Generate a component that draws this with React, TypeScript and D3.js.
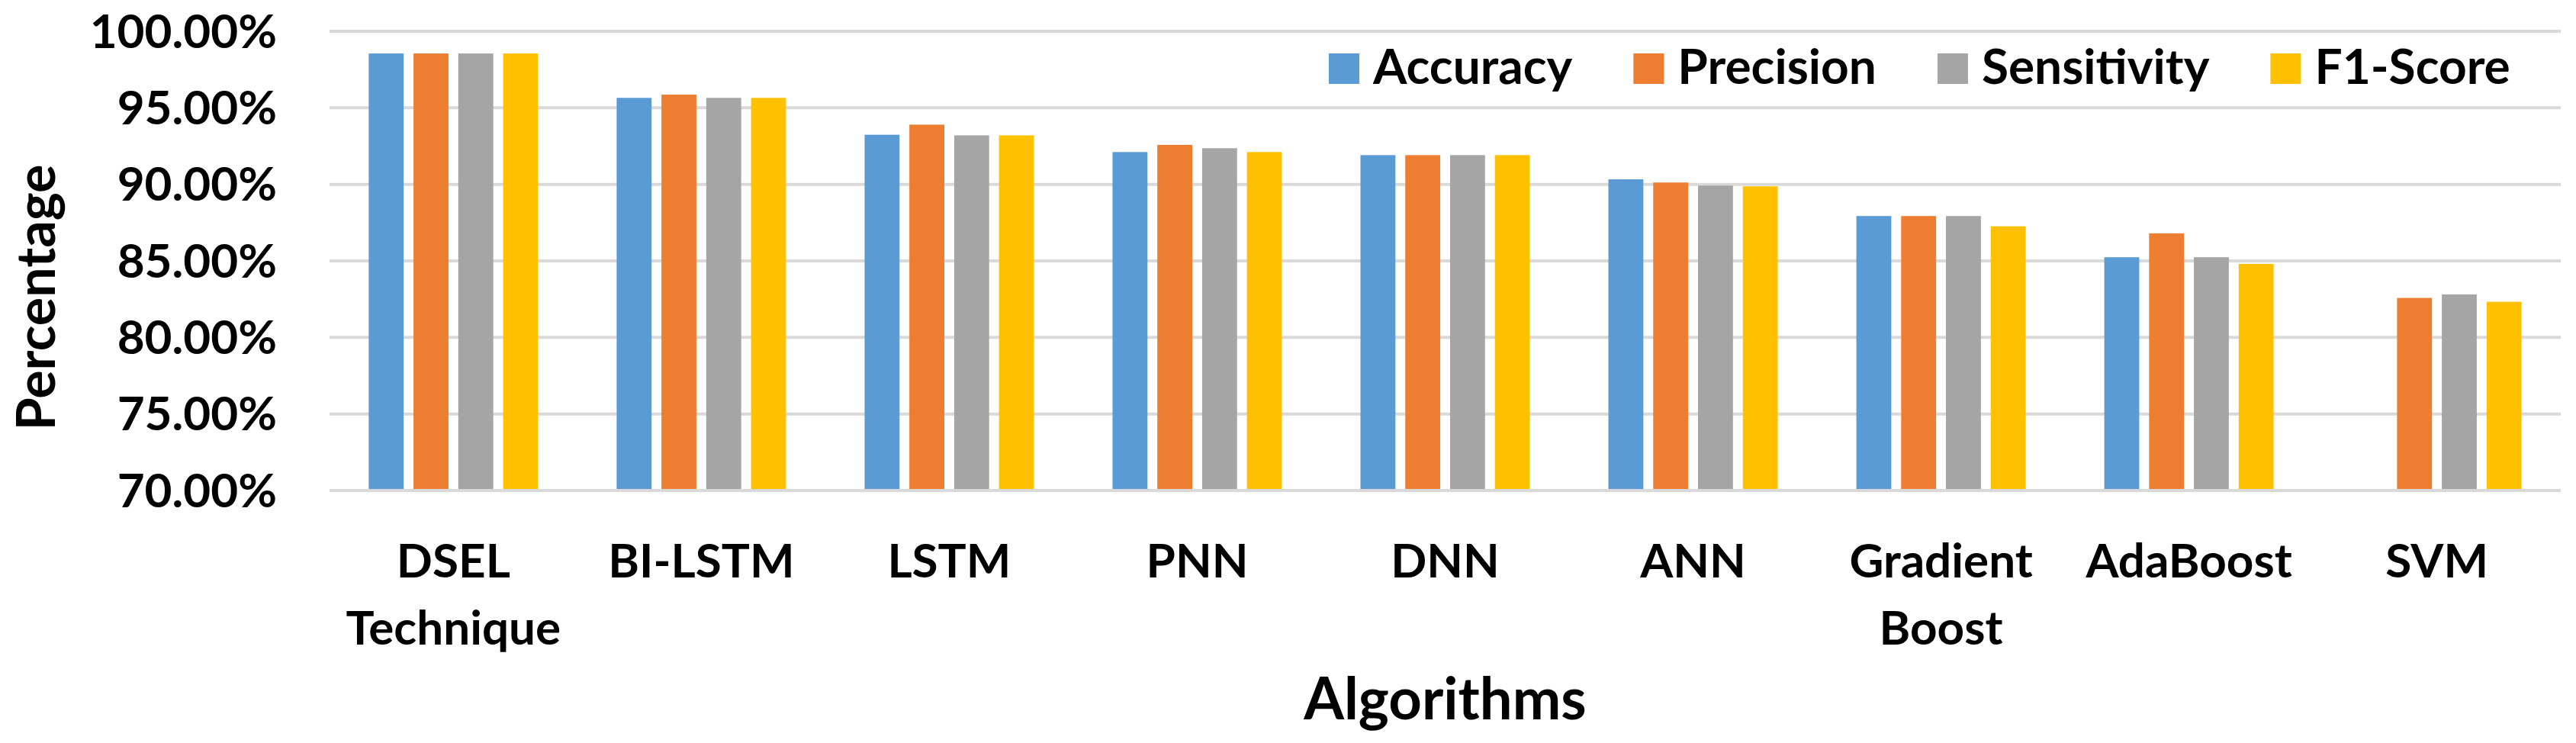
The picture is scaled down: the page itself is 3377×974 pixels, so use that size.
import React, { useEffect, useRef } from 'react';
import * as d3 from 'd3';

// chart data
const algorithms = ['DSEL Technique', 'BI-LSTM', 'LSTM', 'PNN', 'DNN', 'ANN', 'Gradient Boost', 'AdaBoost', 'SVM'];
const seriesNames = ['Accuracy', 'Precision', 'Sensitivity', 'F1-Score'];
const accuracy = [98.55, 95.65, 93.24, 92.11, 91.91, 90.33, 87.93, 85.24, null];
const precision = [98.55, 95.86, 93.9, 92.58, 91.91, 90.12, 87.93, 86.8, 82.58];
const sensitivity = [98.55, 95.65, 93.2, 92.36, 91.91, 89.92, 87.93, 85.24, 82.81];
const f1Score = [98.55, 95.65, 93.2, 92.11, 91.91, 89.87, 87.26, 84.8, 82.33];
const seriesColors = ['#5B9BD5', '#ED7D31', '#A5A5A5', '#FFC000'];
const yTicks = [70, 75, 80, 85, 90, 95, 100];

const WIDTH = 3377;
const HEIGHT = 974;
const FONT = 'Lato, "Open Sans", sans-serif';

const App = () => {
  const svgRef = useRef<SVGSVGElement>(null);

  useEffect(() => {
    const margin = { top: 41, right: 20, bottom: 331, left: 432 };
    const plotRight = WIDTH - margin.right;
    const plotBottom = HEIGHT - margin.bottom;

    const svg = d3.select(svgRef.current);
    svg.selectAll('*').remove();

    const values: (number | null)[][] = [accuracy, precision, sensitivity, f1Score];
    const rows = algorithms.map((name, i) => ({
      name,
      vals: seriesNames.map((s, j) => ({ series: s, value: values[j][i] })),
    }));

    // scales
    const x0 = d3.scaleBand<string>()
      .domain(algorithms)
      .range([margin.left, plotRight])
      .paddingInner(0.317)
      .paddingOuter(0.158);
    const x1 = d3.scaleBand<string>()
      .domain(seriesNames)
      .range([0, x0.bandwidth()])
      .paddingInner(0.22);
    const y = d3.scaleLinear().domain([70, 100]).range([plotBottom, margin.top]);
    const color = d3.scaleOrdinal<string, string>().domain(seriesNames).range(seriesColors);

    // gridlines
    svg.append('g')
      .selectAll('line')
      .data(yTicks.filter(t => t !== 70))
      .join('line')
      .attr('x1', margin.left)
      .attr('x2', plotRight)
      .attr('y1', d => y(d))
      .attr('y2', d => y(d))
      .attr('stroke', '#d9d9d9')
      .attr('stroke-width', 4);

    // y tick labels
    const yAxis = svg.append('g')
      .attr('transform', `translate(${margin.left - 69},0)`)
      .call(d3.axisLeft(y).tickValues(yTicks).tickSize(0).tickPadding(0)
        .tickFormat(d => `${(d as number).toFixed(2)}%`));
    yAxis.select('.domain').remove();
    yAxis.selectAll('text')
      .attr('font-family', FONT)
      .attr('font-weight', 700)
      .attr('font-size', 62)
      .attr('fill', '#000')
      .attr('dy', 21);

    // bars
    svg.append('g')
      .selectAll('g')
      .data(rows)
      .join('g')
      .attr('transform', d => `translate(${x0(d.name)},0)`)
      .selectAll('rect')
      .data(d => d.vals.filter(v => v.value !== null))
      .join('rect')
      .attr('x', d => x1(d.series) as number)
      .attr('width', x1.bandwidth())
      .attr('y', d => y(d.value as number))
      .attr('height', d => y(70) - y(d.value as number))
      .attr('fill', d => color(d.series));

    // x axis line
    svg.append('line')
      .attr('x1', margin.left)
      .attr('x2', plotRight)
      .attr('y1', y(70))
      .attr('y2', y(70))
      .attr('stroke', '#d9d9d9')
      .attr('stroke-width', 4);

    // category labels, wrapped on spaces
    const xLabels = svg.append('g')
      .selectAll('text')
      .data(algorithms)
      .join('text')
      .attr('x', d => (x0(d) as number) + x0.bandwidth() / 2)
      .attr('y', plotBottom + 114)
      .attr('text-anchor', 'middle')
      .attr('font-family', FONT)
      .attr('font-weight', 700)
      .attr('font-size', 62)
      .attr('fill', '#000');
    xLabels.selectAll('tspan')
      .data(d => d.split(' '))
      .join('tspan')
      .attr('x', function () {
        return (this.parentNode as SVGTextElement).getAttribute('x');
      })
      .attr('dy', (d, i) => (i === 0 ? 0 : 88))
      .text(d => d);

    // axis titles
    svg.append('text')
      .attr('x', (margin.left + plotRight) / 2)
      .attr('y', 943)
      .attr('text-anchor', 'middle')
      .attr('font-family', FONT)
      .attr('font-weight', 700)
      .attr('font-size', 76)
      .attr('fill', '#000')
      .text('Algorithms');

    svg.append('text')
      .attr('transform', `translate(72,390) rotate(-90)`)
      .attr('text-anchor', 'middle')
      .attr('font-family', FONT)
      .attr('font-weight', 700)
      .attr('font-size', 70)
      .attr('fill', '#000')
      .text('Percentage');

    // legend, laid out from measured text widths
    const legend = svg.append('g');
    let lx = 1742;
    seriesNames.forEach((s) => {
      legend.append('rect')
        .attr('x', lx)
        .attr('y', 70)
        .attr('width', 40)
        .attr('height', 40)
        .attr('fill', color(s));
      const t = legend.append('text')
        .attr('x', lx + 58)
        .attr('y', 110)
        .attr('font-family', FONT)
        .attr('font-weight', 700)
        .attr('font-size', 64)
        .attr('fill', '#000')
        .text(s);
      const w = (t.node() as SVGTextElement).getComputedTextLength();
      lx += 58 + w + 80;
    });
  }, []);

  return (
    <svg
      ref={svgRef}
      width={WIDTH}
      height={HEIGHT}
      style={{ position: 'absolute', left: 0, top: 0, background: '#fff' }}
    />
  );
};

export default App;
